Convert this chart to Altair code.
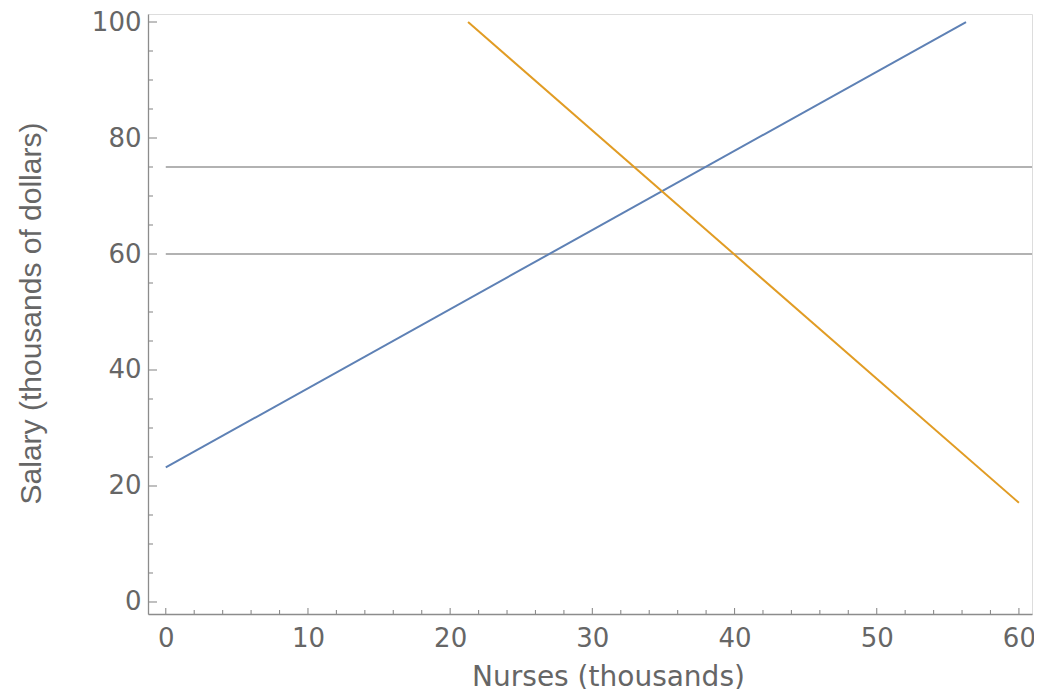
import altair as alt
import pandas as pd

# Series
blue_x = [0.0, 56.28]
blue_y = [23.2, 100.0]
orange_x = [21.26, 60.0]
orange_y = [100.0, 17.1]
ref_levels = [60, 75]

x_major = [0, 10, 20, 30, 40, 50, 60]
x_minor = [v for v in range(2, 60, 2) if v % 10 != 0]
y_major = [0, 20, 40, 60, 80, 100]
y_minor = [v for v in range(5, 100, 5) if v % 20 != 0]

X_DOMAIN = [-1.25, 60.92]
Y_DOMAIN = [-2.07, 101.38]

W, H = 884, 600
AXIS_COLOR = "#8c8c8c"
TEXT_COLOR = "#666666"
FONT = "DejaVu Sans"

xs = alt.Scale(domain=X_DOMAIN, nice=False, zero=False)
ys = alt.Scale(domain=Y_DOMAIN, nice=False, zero=False)

x_axis = alt.Axis(values=x_major, ticks=False, tickSize=0, grid=False, domain=True,
                  domainColor=AXIS_COLOR, domainWidth=1.3, labelFont=FONT, labelFontSize=26,
                  labelColor=TEXT_COLOR, labelPadding=11, title="Nurses (thousands)",
                  titleFont=FONT, titleFontSize=28, titleFontWeight="normal",
                  titleColor=TEXT_COLOR, titleX=460, titleY=63, titleBaseline="middle",
                  titleAlign="center")
y_axis = alt.Axis(values=y_major, ticks=False, tickSize=0, grid=False, domain=True,
                  domainColor=AXIS_COLOR, domainWidth=1.3, labelFont=FONT, labelFontSize=26,
                  labelColor=TEXT_COLOR, labelPadding=7, title="Salary (thousands of dollars)",
                  titleFont="Liberation Sans", titleFontSize=30, titleFontWeight="normal",
                  titleColor=TEXT_COLOR, titleX=-117, titleY=299, titleAngle=270,
                  titleBaseline="middle", titleAlign="center")

lines_df = pd.DataFrame({
    "x": blue_x + orange_x,
    "y": blue_y + orange_y,
    "s": ["blue"] * len(blue_x) + ["orange"] * len(orange_x),
})

base_lines = alt.Chart(lines_df).mark_line(strokeWidth=2, clip=True).encode(
    x=alt.X("x:Q", scale=xs, axis=x_axis),
    y=alt.Y("y:Q", scale=ys, axis=y_axis),
    color=alt.Color("s:N", scale=alt.Scale(domain=["blue", "orange"],
                                           range=["#5E81B5", "#E19C24"]), legend=None),
    detail="s:N",
)

hlines = alt.Chart(pd.DataFrame({"y": ref_levels})).mark_rule(
    color="#999999", strokeWidth=1.3).encode(
    y=alt.Y("y:Q", scale=ys),
    x=alt.datum(0, scale=xs),
    x2=alt.value(W),
)

xt_major = alt.Chart(pd.DataFrame({"v": x_major})).mark_rule(
    color=AXIS_COLOR, strokeWidth=1.1).encode(
    x=alt.X("v:Q", scale=xs), y=alt.value(H), y2=alt.value(H - 6))
xt_minor = alt.Chart(pd.DataFrame({"v": x_minor})).mark_rule(
    color=AXIS_COLOR, strokeWidth=1.1).encode(
    x=alt.X("v:Q", scale=xs), y=alt.value(H), y2=alt.value(H - 4))
yt_major = alt.Chart(pd.DataFrame({"v": y_major})).mark_rule(
    color=AXIS_COLOR, strokeWidth=1.1).encode(
    y=alt.Y("v:Q", scale=ys), x=alt.value(0), x2=alt.value(9))
yt_minor = alt.Chart(pd.DataFrame({"v": y_minor})).mark_rule(
    color=AXIS_COLOR, strokeWidth=1.1).encode(
    y=alt.Y("v:Q", scale=ys), x=alt.value(0), x2=alt.value(5))

chart = alt.layer(hlines, xt_major, xt_minor, yt_major, yt_minor, base_lines).properties(
    width=W, height=H,
    autosize=alt.AutoSizeParams(type="none"),
    padding={"left": 140, "top": 6, "right": 2, "bottom": 75},
).configure_view(stroke=None).configure(background="white")

chart.save("out.html", embed_options={"renderer": "svg", "actions": False})
